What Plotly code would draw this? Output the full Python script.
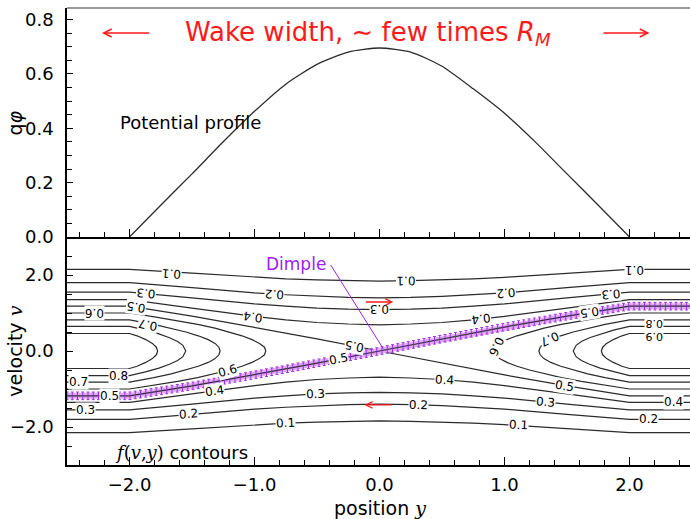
import numpy as np
import plotly.graph_objects as go

# ---------------- data ----------------
# potential profile q*phi(y)
PHI_Y = [-2.0, -1.75, -1.5, -1.25, -1.0, -0.75, -0.5, -0.25, 0.0, 0.25, 0.5, 0.75, 1.0, 1.25, 1.5, 1.75, 2.0]
PHI_V = [0.0, 0.117, 0.232, 0.35, 0.462, 0.562, 0.635, 0.68, 0.695, 0.68, 0.628, 0.545, 0.455, 0.348, 0.232, 0.117, 0.0]

# passing-orbit contours (upper half; lower half is the mirror v -> -v)
PASS_Y = [-2.5, -2.0, -1.5, -1.0, -0.75, -0.5, -0.25, 0.0, 0.25, 0.5, 0.75, 1.0, 1.5, 2.0, 2.5]
PASS_01 = [2.15, 2.15, 2.05, 1.94, 1.90, 1.87, 1.85, 1.84, 1.85, 1.87, 1.90, 1.94, 2.05, 2.15, 2.15]
PASS_02 = [1.80, 1.80, 1.67, 1.53, 1.48, 1.44, 1.41, 1.40, 1.41, 1.44, 1.48, 1.53, 1.67, 1.80, 1.80]
PASS_03 = [1.55, 1.55, 1.40, 1.24, 1.18, 1.13, 1.10, 1.09, 1.10, 1.13, 1.18, 1.24, 1.40, 1.55, 1.55]
PASS_04 = [1.35, 1.35, 1.13, 0.91, 0.82, 0.75, 0.71, 0.69, 0.71, 0.75, 0.82, 0.91, 1.13, 1.35, 1.35]

# trapped-orbit loops on the left (upper branch, out to the tip); right side mirrors y -> -y
LOOP06_V = [1.0, 1.0, 0.9, 0.8, 0.7, 0.6, 0.5, 0.4, 0.3, 0.2, 0.1, 0.0]
LOOP06_Y = [-2.5, -2.0, -1.80, -1.615, -1.455, -1.316, -1.20, -1.10, -1.02, -0.96, -0.92, -0.91]
LOOP07_V = [0.82, 0.82, 0.7, 0.6, 0.5, 0.4, 0.3, 0.2, 0.1, 0.0]
LOOP07_Y = [-2.5, -2.0, -1.805, -1.666, -1.549, -1.45, -1.37, -1.315, -1.285, -1.275]
LOOP08_V = [0.65, 0.65, 0.55, 0.45, 0.35, 0.25, 0.15, 0.0]
LOOP08_Y = [-2.5, -2.0, -1.872, -1.765, -1.68, -1.615, -1.573, -1.55]
LOOP09_V = [0.46, 0.46, 0.4, 0.3, 0.2, 0.1, 0.0]
LOOP09_Y = [-2.5, -2.0, -1.94, -1.87, -1.817, -1.785, -1.775]

# separatrix (f = 0.5): the hatched "dimple" branch and the plain branch
SEP_Y = [-2.5, -2.0, -1.5, -1.0, -0.5, 0.0, 0.5, 1.0, 1.5, 2.0, 2.5]
SEP_V = [-1.18, -1.18, -0.92, -0.63, -0.32, 0.0, 0.32, 0.63, 0.92, 1.18, 1.18]

# contour labels: text, y, v, angle, size
LABELS = [
    ("0.1", -1.66, 2.03, -176, 12), ("0.1", 0.21, 1.845, 179, 12), ("0.1", 2.04, 2.15, 180, 12),
    ("0.2", -0.84, 1.50, -176, 12), ("0.2", 1.01, 1.53, 175, 12),
    ("0.3", -1.87, 1.51, -175, 12), ("0.3", 0.0, 1.09, 180, 12), ("0.3", 1.85, 1.50, 175, 12),
    ("0.4", -1.01, 0.91, -172, 12), ("0.4", 0.81, 0.86, 173, 12),
    ("0.5", -1.95, 1.16, -171, 12), ("0.5", -0.2, 0.13, -169, 12), ("0.5", 1.68, 1.01, 171, 12),
    ("0.6", -2.28, 1.0, 180, 12), ("0.6", 0.93, 0.12, 115, 12),
    ("0.7", -1.85, 0.70, -169, 12), ("0.7", 1.36, 0.33, 155, 12),
    ("0.8", 2.2, 0.72, 180, 11), ("0.9", 2.2, 0.40, 180, 11),
    ("0.7", -2.41, -0.82, 0, 12), ("0.8", -2.09, -0.65, 0, 12), ("0.5", -2.16, -1.18, 0, 12),
    ("0.3", -2.35, -1.55, 0, 12), ("0.6", -1.22, -0.52, -16, 12), ("0.4", -1.32, -1.05, -8, 12),
    ("0.2", -1.53, -1.66, -4, 12), ("0.3", -0.51, -1.13, -2, 12), ("0.1", -0.75, -1.90, -3, 12),
    ("0.5", -0.33, -0.21, -11, 12), ("0.4", 0.52, -0.75, 3, 12), ("0.2", 0.31, -1.42, 2, 12),
    ("0.5", 1.48, -0.93, 9, 12), ("0.3", 1.33, -1.35, 5, 12), ("0.1", 1.11, -1.96, 3, 12),
    ("0.4", 2.35, -1.35, 0, 12), ("0.2", 2.15, -1.80, 0, 12),
]

# ---------------- figure ----------------
LINE = "#2b2b2b"
PURPLE = "#a020f0"
RED = "#ff1a1a"
FONT = "DejaVu Sans"

fig = go.Figure()

# potential profile (top panel)
fig.add_trace(go.Scatter(x=PHI_Y, y=PHI_V, mode="lines", xaxis="x2", yaxis="y2",
                         line=dict(color=LINE, width=1.3, shape="spline", smoothing=0.6),
                         showlegend=False, hoverinfo="skip"))

def add_line(ys, vs):
    fig.add_trace(go.Scatter(x=ys, y=vs, mode="lines", xaxis="x", yaxis="y",
                             line=dict(color=LINE, width=1.2), showlegend=False,
                             hoverinfo="skip"))

for pv in (PASS_01, PASS_02, PASS_03, PASS_04):
    add_line(PASS_Y, pv)
    add_line(PASS_Y, [-v for v in pv])

for ly, lv in ((LOOP06_Y, LOOP06_V), (LOOP07_Y, LOOP07_V), (LOOP08_Y, LOOP08_V), (LOOP09_Y, LOOP09_V)):
    yy = list(ly) + list(ly[::-1][1:])
    vv = list(lv) + [-v for v in lv[::-1][1:]]
    add_line(yy, vv)
    add_line([-y for y in yy], vv)

# plain separatrix branch
add_line(SEP_Y, [-v for v in SEP_V])

# hatched separatrix branch (the dimple)
fig.add_trace(go.Scatter(x=SEP_Y, y=SEP_V, mode="lines", xaxis="x", yaxis="y",
                         line=dict(color="rgb(222,170,248)", width=6),
                         showlegend=False, hoverinfo="skip"))
add_line(SEP_Y, SEP_V)
hy = np.arange(-2.5, 2.5, 0.042)
hv = np.interp(hy, SEP_Y, SEP_V)
fig.add_trace(go.Scatter(x=hy, y=hv, mode="markers", xaxis="x", yaxis="y",
                         marker=dict(size=2, color="rgba(0,0,0,0)"),
                         error_y=dict(type="constant", value=0.1, color="#9a1ee8",
                                      thickness=0.9, width=1.5),
                         showlegend=False, hoverinfo="skip"))

# dimple pointer
fig.add_trace(go.Scatter(x=[-0.39, 0.03], y=[2.26, 0.06], mode="lines", xaxis="x", yaxis="y",
                         line=dict(color=PURPLE, width=1), showlegend=False, hoverinfo="skip"))

ann = []
for txt, yy, vv, ang, sz in LABELS:
    ann.append(dict(x=yy, y=vv, xref="x", yref="y", text=txt, showarrow=False,
                    textangle=ang, bgcolor="white", borderpad=0,
                    font=dict(family=FONT, size=sz, color="black")))

ann += [
    dict(x=-0.665, y=2.3, xref="x", yref="y", text="Dimple", showarrow=False,
         font=dict(family=FONT, size=17, color=PURPLE)),
    dict(x=-2.096, y=0.42, xref="x2", yref="y2", text="Potential profile", showarrow=False,
         xanchor="left", font=dict(family=FONT, size=18, color="black")),
    dict(x=-2.13, y=-2.68, xref="x", yref="y", showarrow=False, xanchor="left",
         text="<span style='font-family:DejaVu Serif'><i>f</i>(<i>v</i>,<i>y</i>)</span> contours",
         font=dict(family=FONT, size=18, color="black")),
    dict(x=-0.09, y=0.75, xref="x2", yref="y2", showarrow=False,
         text="Wake width, \u223c few times <i>R</i><sub><i>M</i></sub>",
         font=dict(family=FONT, size=26, color=RED)),
    # red arrows (top)
    dict(x=-2.22, y=0.75, ax=-1.83, ay=0.75, xref="x2", yref="y2", axref="x2", ayref="y2",
         text="", showarrow=True, arrowhead=5, arrowsize=1.2, arrowwidth=1.3, arrowcolor=RED),
    dict(x=2.16, y=0.75, ax=1.78, ay=0.75, xref="x2", yref="y2", axref="x2", ayref="y2",
         text="", showarrow=True, arrowhead=5, arrowsize=1.2, arrowwidth=1.3, arrowcolor=RED),
    # red arrows (bottom)
    dict(x=0.11, y=1.29, ax=-0.12, ay=1.29, xref="x", yref="y", axref="x", ayref="y",
         text="", showarrow=True, arrowhead=5, arrowsize=1.0, arrowwidth=1.3, arrowcolor=RED),
    dict(x=-0.12, y=-1.42, ax=0.11, ay=-1.42, xref="x", yref="y", axref="x", ayref="y",
         text="", showarrow=True, arrowhead=5, arrowsize=1.0, arrowwidth=1.3, arrowcolor=RED),
    # axis titles
    dict(x=-0.084, y=0.42, xref="paper", yref="y2", text="q<i>\u03c6</i>", textangle=-90,
         xanchor="center", yanchor="middle",
         showarrow=False, font=dict(family=FONT, size=19, color="black")),
    dict(x=-0.084, y=0.0, xref="paper", yref="y",
         text="velocity <span style='font-family:DejaVu Serif'><i>v</i></span>", textangle=-90,
         xanchor="center", yanchor="middle",
         showarrow=False, font=dict(family=FONT, size=19, color="black")),
    dict(x=0.0, y=-0.094, xref="x", yref="paper",
         text="position <span style='font-family:DejaVu Serif'><i>y</i></span>",
         xanchor="center", yanchor="middle",
         showarrow=False, font=dict(family=FONT, size=19, color="black")),
]

XR = [-2.5, 2.484]
SPLIT = 0.4989
common_x = dict(range=XR, showline=True, linecolor="black", linewidth=1.5,
                ticks="inside", ticklen=8, tickwidth=1, tickcolor="black",
                dtick=1, tick0=0, tickformat=".1f",
                minor=dict(dtick=0.2, ticklen=5, ticks="inside", tickcolor="black"),
                showgrid=False, zeroline=False,
                tickfont=dict(family=FONT, size=18, color="black"))

fig.update_layout(
    width=690, height=519,
    margin=dict(l=67, r=0, t=8, b=54),
    plot_bgcolor="white", paper_bgcolor="white",
    showlegend=False,
    xaxis=dict(**common_x, anchor="y", domain=[0, 1], ticklabelstandoff=3),
    xaxis2=dict(**common_x, anchor="y2", domain=[0, 1], matches="x", showticklabels=False),
    yaxis=dict(domain=[0, SPLIT], range=[-3, 3], showline=True, linecolor="black", linewidth=1.5,
               ticks="inside", ticklen=6, tickcolor="black", dtick=2, tick0=0, tickformat=".1f",
               minor=dict(dtick=0.5, ticklen=5, ticks="inside", tickcolor="black"),
               showgrid=False, zeroline=False, ticklabelstandoff=8,
               tickfont=dict(family=FONT, size=18, color="black")),
    yaxis2=dict(domain=[SPLIT, 1], range=[0, 0.842], showline=True, linecolor="black", linewidth=1.5,
                ticks="inside", ticklen=6, tickcolor="black", dtick=0.2, tick0=0, tickformat=".1f",
                minor=dict(dtick=0.05, ticklen=5, ticks="inside", tickcolor="black"),
                showgrid=False, zeroline=False, ticklabelstandoff=8,
                tickfont=dict(family=FONT, size=18, color="black")),
    annotations=ann,
    shapes=[dict(type="line", xref="paper", yref="paper", x0=0, x1=1, y0=1, y1=1,
                 line=dict(color="#777777", width=1.5))],
)

fig.write_html("out.html")
